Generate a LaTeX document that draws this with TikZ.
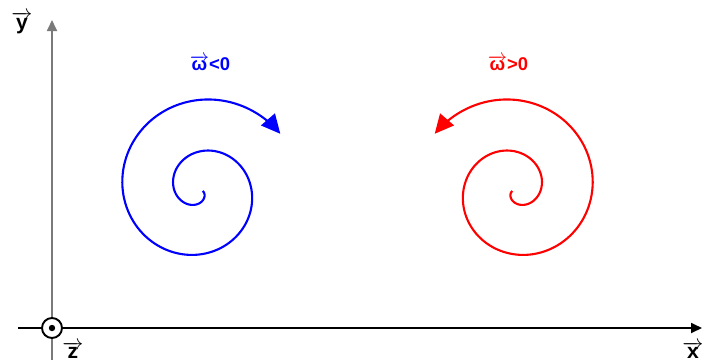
\documentclass[tikz,border=0pt]{standalone}
\usepackage{fontspec}
\setmainfont{Liberation Sans}
\usetikzlibrary{arrows.meta}
\definecolor{cblue}{HTML}{0000FF}
\definecolor{cred}{HTML}{FF0000}
\definecolor{cgrey}{HTML}{7A7A7A}
\newcommand{\vecsym}[1]{\ensuremath{\overrightarrow{\mbox{#1}}}}
\tikzset{
  axis/.style={line width=1pt, -{Triangle[length=2.2mm, width=2mm]}},
  spiral/.style={draw=#1, line width=1.2pt, -{Triangle[length=3.8mm, width=3.6mm]}, #1},
  axlabel/.style={font=\bfseries\fontsize{12}{14}\selectfont, inner sep=0pt},
  omlabel/.style={font=\bfseries\fontsize{10.5}{12}\selectfont, inner sep=0pt, text=#1},
}

\begin{document}
\begin{tikzpicture}[x=0.02cm, y=-0.02cm]
  \useasboundingbox (0,0) rectangle (702,362);
  % axes
  \coordinate (O) at (52,328);
  \coordinate (ytop) at (52,20);
  \coordinate (ybot) at (52,360);
  \coordinate (xleft) at (18,328);
  \coordinate (xright) at (702,328);
  \draw[axis, cgrey] (ybot) -- (ytop);
  \draw[axis, black] (xleft) -- (xright);
  \draw[line width=1.1pt, fill=white] (O) circle (10);
  \fill (O) circle (3.2);
  \node[axlabel] (ylab) at (22,23) {\vecsym{y}};
  \node[axlabel] (zlab) at (73,350) {\vecsym{z}};
  \node[axlabel] (xlab) at (693,350) {\vecsym{x}};
  % rotations
  \draw[spiral=cblue] plot[domain=20:685, samples=220, smooth]
    ({200 + 8.2*\x/57.2958*cos(\x)}, {190 + 8.2*\x/57.2958*sin(\x)});
  \draw[spiral=cred] plot[domain=20:685, samples=220, smooth]
    ({515 - 8.2*\x/57.2958*cos(\x)}, {190 + 8.2*\x/57.2958*sin(\x)});
  \node[omlabel=cblue] (wneg) at (210,63) {\vecsym{ω}<0};
  \node[omlabel=cred] (wpos) at (508,63) {\vecsym{ω}>0};
\end{tikzpicture}
\end{document}
